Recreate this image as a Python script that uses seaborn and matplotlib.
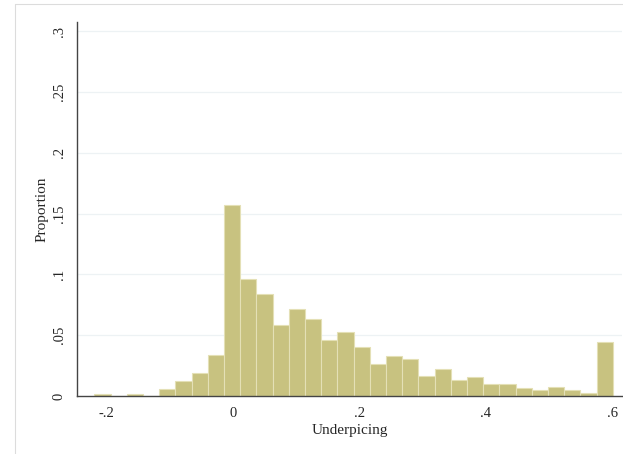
import numpy as np
import pandas as pd
import matplotlib
matplotlib.use('Agg')
import matplotlib.pyplot as plt
import seaborn as sns

# histogram of underpricing: 32 bins, proportion per bin
bin_start = -0.2195
bin_width = 0.02565
proportion = [0.002, 0.0, 0.002, 0.0, 0.006, 0.012, 0.019, 0.0335,
              0.157, 0.0959, 0.084, 0.0588, 0.0712, 0.0634, 0.0459, 0.0527,
              0.0401, 0.0264, 0.0325, 0.0302, 0.0168, 0.0226, 0.0134, 0.0154,
              0.0096, 0.0096, 0.0066, 0.0052, 0.0077, 0.0052, 0.0028, 0.0445]
xticks = [-0.2, 0, 0.2, 0.4, 0.6]
xticklabels = ['-.2', '0', '.2', '.4', '.6']
yticks = [0, 0.05, 0.1, 0.15, 0.2, 0.25, 0.3]
yticklabels = ['0', '.05', '.1', '.15', '.2', '.25', '.3']

nbins = len(proportion)
bin_end = bin_start + bin_width * nbins
df = pd.DataFrame({'Underpicing': bin_start + bin_width * (np.arange(nbins) + 0.5),
                   'Proportion': proportion})

sns.set_style('white')
plt.rcParams['font.family'] = ['Liberation Serif', 'DejaVu Serif']

fig = plt.figure(figsize=(6.23, 4.54), dpi=100)
ax = fig.add_axes([0.1236, 0.1278, 0.875, 0.8244])

# outer graph-region frame (Stata style)
fig.add_artist(plt.Line2D([15 / 623, 15 / 623], [0, 1 - 4 / 454], color='#dcdcdc', lw=0.8))
fig.add_artist(plt.Line2D([15 / 623, 1], [1 - 4 / 454, 1 - 4 / 454], color='#dcdcdc', lw=0.8))

for y in yticks[1:]:
    ax.axhline(y, color='#edf2f4', lw=0.9, zorder=0)

sns.histplot(data=df, x='Underpicing', weights='Proportion', bins=nbins,
             binrange=(bin_start, bin_end), stat='count',
             color='#c8c280', edgecolor='#e4e0b6', linewidth=0.8,
             alpha=1, ax=ax, zorder=2)

ax.set_xlim(-0.247, 0.616)
ax.set_ylim(0, 0.308)
ax.set_xticks(xticks)
ax.set_xticklabels(xticklabels, fontsize=10.5)
ax.set_yticks(yticks)
ax.set_yticklabels(yticklabels, fontsize=10.5, rotation=90, va='center')
ax.tick_params(axis='both', direction='out', length=5, width=0.8, color='#333333', pad=3)
ax.set_xlabel('Underpicing', fontsize=11, labelpad=3)
ax.set_ylabel('Proportion', fontsize=11, labelpad=3)

for side in ['top', 'right']:
    ax.spines[side].set_visible(False)
for side in ['left', 'bottom']:
    ax.spines[side].set_color('#444444')
    ax.spines[side].set_linewidth(1.0)

fig.savefig('out.png', dpi=100)
